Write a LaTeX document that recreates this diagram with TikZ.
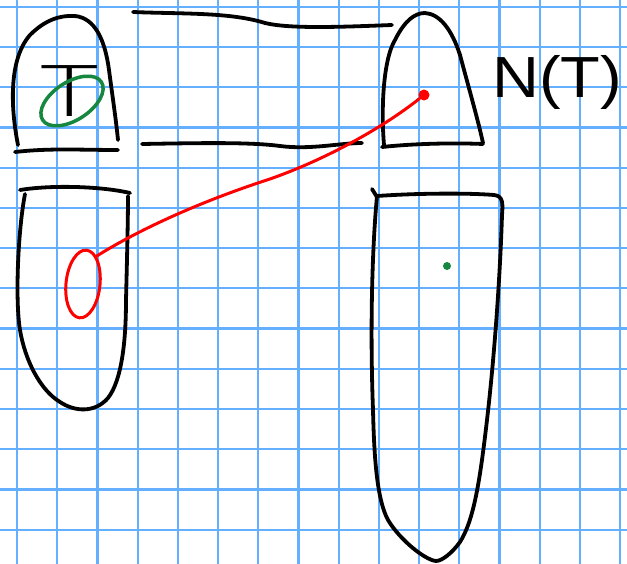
\documentclass[tikz,border=0pt]{standalone}
\usepackage{fontspec}
\setsansfont{Liberation Sans}
\newfontfamily\finafont{Lato Light}
\usetikzlibrary{shapes.geometric}
\definecolor{hojaCuadro}{RGB}{100,175,255}
\definecolor{tintaRoja}{RGB}{255,0,0}
\definecolor{tintaVerde}{RGB}{22,135,62}
\tikzset{
  cuadricula/.style={draw=hojaCuadro, line width=2.2pt},
  trazo/.style={draw=black, line width=3.8pt, line cap=round, line join=round},
  trazor/.style={draw=tintaRoja, line width=3pt, line cap=round, line join=round},
  trazov/.style={draw=tintaVerde, line width=3.5pt},
  punto/.style={circle, inner sep=0pt, draw=none},
  letra/.style={font=\sffamily\fontsize{58}{62}\selectfont, inner sep=0pt},
  letrag/.style={font=\finafont\fontsize{72}{78}\selectfont, inner sep=0pt}
}

\begin{document}
\begin{tikzpicture}[x=1pt, y=-1pt]
  \fill[white] (0,0) rectangle (627,564);
  \useasboundingbox (0,0) rectangle (627,564);
  \foreach \k in {0,...,15}
    \draw[cuadricula] ({17+40.2*\k},0) -- ({17+40.2*\k},564);
  \foreach \k in {0,...,13}
    \draw[cuadricula] (0,{7+40.2*\k}) -- (627,{7+40.2*\k});

  \draw[trazo] (18,145) .. controls (11,110) and (8,60) .. (30,35) .. controls (45,20) and (60,15) .. (75,16) .. controls (95,18) and (105,40) .. (109,70) .. controls (113,100) and (116,120) .. (118,140);
  \draw[trazo] (15,152) .. controls (50,148) and (80,150) .. (118,150);
  \node[letrag, anchor=base] (letraT) at (70,117) {\scalebox{1.4}[1]{T}};
  \node[trazov, ellipse, minimum width=70pt, minimum height=38pt, inner sep=0pt, rotate=33] (anilloT) at (72,101) {};

  \draw[trazo] (133,12) .. controls (180,14) and (230,12) .. (265,23) .. controls (290,29) and (340,27) .. (392,25);
  \draw[trazo] (142,144) .. controls (200,143) and (250,142) .. (280,146) .. controls (310,150) and (340,143) .. (362,143);

  \draw[trazo] (384,145) .. controls (381,110) and (383,60) .. (395,40) .. controls (405,20) and (415,13) .. (425,13) .. controls (440,14) and (452,30) .. (460,55) .. controls (468,85) and (478,120) .. (483,143);
  \draw[trazo] (382,147) .. controls (420,143) and (460,143) .. (483,144);
  \node[punto, fill=tintaRoja, minimum size=11pt] (puntoN) at (424,95) {};
  \node[letra, anchor=base west] (etiquetaN) at (492,98) {\scalebox{1.12}[1]{N(T)}};

  \draw[trazo] (20,190) .. controls (50,185) and (100,186) .. (130,193);
  \draw[trazo] (25,194) .. controls (18,230) and (15,300) .. (20,330) .. controls (25,360) and (40,390) .. (60,402) .. controls (75,412) and (95,413) .. (108,398) .. controls (122,380) and (126,340) .. (126,300) .. controls (127,260) and (128,220) .. (128,196);
  \node[trazor, ellipse, minimum width=34pt, minimum height=68pt, inner sep=0pt, rotate=-6] (anilloR) at (83,284) {};

  \draw[trazo] (372,189) -- (377,197);
  \draw[trazo] (377,196) .. controls (420,193) and (470,193) .. (494,195) .. controls (503,196) and (503,203) .. (502,215) .. controls (500,280) and (494,360) .. (487,420) .. controls (480,480) and (474,520) .. (460,542) .. controls (452,553) and (442,561) .. (436,561) .. controls (425,560) and (400,540) .. (388,520) .. controls (376,498) and (374,450) .. (373,410) .. controls (370,330) and (372,250) .. (377,196);
  \node[punto, fill=tintaVerde, minimum size=8pt] (puntoV) at (447,266) {};

  \draw[trazor] (anilloR.70) .. controls (130,235) and (190,205) .. (267,180) .. controls (320,162) and (380,130) .. (puntoN);
\end{tikzpicture}
\end{document}
